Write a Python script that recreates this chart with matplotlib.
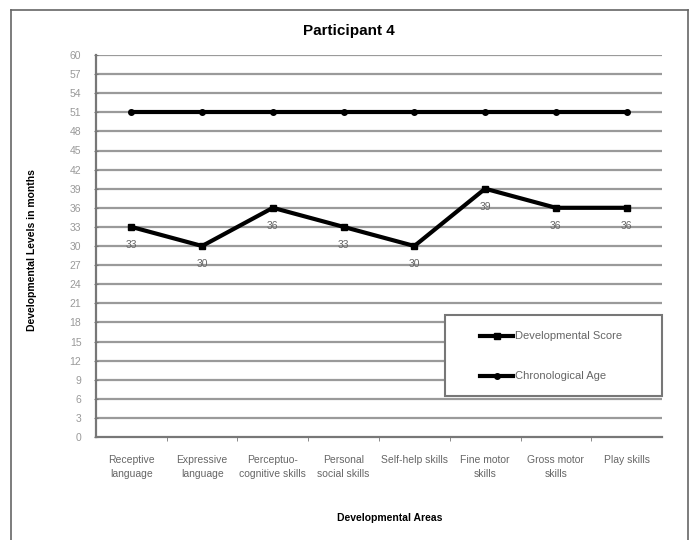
import matplotlib.pyplot as plt
from matplotlib.lines import Line2D
from matplotlib.patches import Rectangle

plt.rcParams['font.family'] = ['Liberation Sans Narrow', 'Liberation Sans', 'DejaVu Sans']

# developmental areas and scores (months)
areas = ["Receptive\nlanguage", "Expressive\nlanguage", "Perceptuo-\ncognitive skills",
         "Personal\nsocial skills", "Self-help skills", "Fine motor\nskills",
         "Gross motor\nskills", "Play skills"]
dev_score = [33, 30, 36, 33, 30, 39, 36, 36]
chrono_age = [51, 51, 51, 51, 51, 51, 51, 51]
yticks = list(range(0, 61, 3))
series_names = ["Developmental Score", "Chronological Age"]

W, H = 695, 540
fig = plt.figure(figsize=(W / 100, H / 100), dpi=100)
ax = fig.add_axes([96 / W, 1 - 437 / H, 566 / W, 382 / H])

x = list(range(len(areas)))

for t in yticks[1:]:
    ax.axhline(t, color="#9a9a9a", linewidth=1.6, zorder=1)

ax.plot(x, chrono_age, color="black", linewidth=3, marker="o", markersize=4, zorder=3)
ax.plot(x, dev_score, color="black", linewidth=3, marker="s", markersize=4, zorder=3)

for xi, v in zip(x, dev_score):
    ax.annotate(str(v), (xi, v), xytext=(0, -13), textcoords="offset points",
                ha="center", va="center", fontsize=7.5, color="#666666")

ax.set_xlim(-0.5, len(areas) - 0.5)
ax.set_ylim(0, 60)
ax.set_yticks(yticks)
ax.set_xticks(x)
ax.set_xticklabels(areas, fontsize=7.5, color="#666666", linespacing=1.5)
ax.set_xticks([i - 0.5 for i in range(1, len(areas))], minor=True)
ax.tick_params(axis="x", which="major", length=0, pad=13)
ax.tick_params(axis="x", which="minor", length=3, color="#777777")
ax.tick_params(axis="y", length=3, color="#777777", labelsize=7.5, labelcolor="#999999",
               direction="inout", pad=9)

for side in ["top", "right"]:
    ax.spines[side].set_visible(False)
for side in ["left", "bottom"]:
    ax.spines[side].set_color("#777777")
    ax.spines[side].set_linewidth(1.6)

ax.set_xlabel("Developmental Areas", fontsize=7.5, fontweight="bold")
ax.xaxis.set_label_coords(0.518, -76 / 382)
ax.set_ylabel("Developmental Levels in months", fontsize=7.5, fontweight="bold")
ax.yaxis.set_label_coords(-59 / 566, 0.49)
fig.text(0.502, 1 - 31 / H, "Participant 4", ha="center", va="center",
         fontsize=11, fontweight="bold")

# legend box
fig.add_artist(Rectangle((445 / W, 1 - 396 / H), 217 / W, 81 / H, transform=fig.transFigure,
                         facecolor="white", edgecolor="#777777", linewidth=1.5, zorder=5))
for name, mk, ypx in zip(series_names, ["s", "o"], [336, 376]):
    yf = 1 - ypx / H
    fig.add_artist(Line2D([480 / W, 513 / W], [yf, yf], color="black", linewidth=3,
                          marker=None, zorder=6))
    fig.add_artist(Line2D([496.5 / W], [yf], color="black", marker=mk, markersize=4, zorder=6))
    fig.text(515 / W, yf, name, ha="left", va="center", fontsize=8, color="#666666", zorder=6)

# outer chart frame
fx0, fx1 = 11 / W, 688 / W
fy1 = 1 - 10 / H
fig.add_artist(Line2D([fx0, fx0], [0, fy1], color="#666666", linewidth=1.2))
fig.add_artist(Line2D([fx1, fx1], [0, fy1], color="#666666", linewidth=1.2))
fig.add_artist(Line2D([fx0, fx1], [fy1, fy1], color="#666666", linewidth=1.2))

fig.savefig("out.png", dpi=100)
